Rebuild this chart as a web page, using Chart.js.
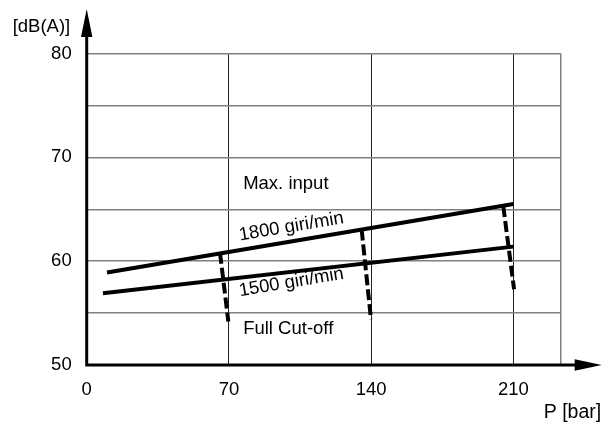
<!DOCTYPE html>
<html>
<head>
<meta charset="utf-8">
<script src="https://cdn.jsdelivr.net/npm/chart.js@4.4.1/dist/chart.umd.min.js"></script>
<style>
  html, body { margin: 0; padding: 0; background: #fff; }
  #c { display: block; }
</style>
</head>
<body>
<canvas id="c" width="609" height="430"></canvas>
<script>
// ---- data ----
const xTicks = [0, 70, 140, 210];          // P [bar]
const xMax = 233.4;
const yTicks = [50, 60, 70, 80];           // dB(A) labelled ticks
const yMin = 50, yMax = 80, yStep = 5;

const p1800 = [10, 210];
const db1800 = [58.9, 65.5];
const p1500 = [8, 210];
const db1500 = [56.9, 61.4];

const cut70P = [65.6, 69.7];
const cut70Db = [60.8, 54.2];
const cut140P = [135.3, 139.9];
const cut140Db = [63.05, 54.4];
const cut210P = [205, 210.3];
const cut210Db = [65.3, 57.3];

const labelTexts = ['Max. input', '1800 giri/min', '1500 giri/min', 'Full Cut-off'];
const labelP = [77, 75.4, 75.4, 77];
const labelDb = [66.93, 61.99, 56.63, 53.0];
const labelAngle = [0, -9.5, -9.5, 0];

const yTitle = '[dB(A)]';
const xTitle = 'P [bar]';

// ---- build ----
const pts = (xs, ys) => xs.map((x, i) => ({ x: x, y: ys[i] }));
const FONT = '"Liberation Sans", Arial, Helvetica, sans-serif';
const FSIZE = 18.5;
Chart.defaults.font.family = FONT;
Chart.defaults.font.size = FSIZE;
Chart.defaults.color = '#000';

const solid = { borderColor: '#000', borderWidth: 4, pointRadius: 0, showLine: true, fill: false, borderCapStyle: 'butt' };
const dashed = { borderColor: '#000', borderWidth: 4, pointRadius: 0, showLine: true, fill: false, borderDash: [11, 4], borderCapStyle: 'butt' };

const decor = {
  id: 'decor',
  afterDraw(chart) {
    const ctx = chart.ctx;
    const xs = chart.scales.x, ys = chart.scales.y;
    const ca = chart.chartArea;
    const x0 = xs.getPixelForValue(0);
    const y0 = ys.getPixelForValue(yMin);
    ctx.save();
    // axes
    ctx.strokeStyle = '#000';
    ctx.fillStyle = '#000';
    ctx.lineWidth = 3;
    ctx.beginPath();
    ctx.moveTo(x0, y0);
    ctx.lineTo(x0, ca.top - 20);
    ctx.moveTo(x0 - 1.5, y0);
    ctx.lineTo(ca.right + 15, y0);
    ctx.stroke();
    // y arrow
    const yTip = ca.top - 44.5;
    ctx.beginPath();
    ctx.moveTo(x0, yTip);
    ctx.lineTo(x0 - 5.7, yTip + 28);
    ctx.lineTo(x0 + 5.7, yTip + 28);
    ctx.closePath();
    ctx.fill();
    // x arrow
    const xTip = ca.right + 40.7;
    ctx.beginPath();
    ctx.moveTo(xTip, y0);
    ctx.lineTo(xTip - 27, y0 - 5.7);
    ctx.lineTo(xTip - 27, y0 + 5.7);
    ctx.closePath();
    ctx.fill();
    // axis titles
    ctx.font = FSIZE + 'px ' + FONT;
    ctx.textBaseline = 'alphabetic';
    ctx.textAlign = 'right';
    ctx.fillText(yTitle, x0 - 16.5, ca.top - 22);
    ctx.font = '19.5px ' + FONT;
    ctx.fillText(xTitle, xTip - 0.5, y0 + 53);
    // in-plot labels
    ctx.font = FSIZE + 'px ' + FONT;
    ctx.textAlign = 'left';
    for (let i = 0; i < labelTexts.length; i++) {
      const px = xs.getPixelForValue(labelP[i]);
      const py = ys.getPixelForValue(labelDb[i]);
      ctx.save();
      ctx.translate(px, py);
      ctx.rotate(labelAngle[i] * Math.PI / 180);
      ctx.fillText(labelTexts[i], 0, 0);
      ctx.restore();
    }
    ctx.restore();
  }
};

new Chart(document.getElementById('c'), {
  type: 'scatter',
  data: {
    datasets: [
      Object.assign({ label: '1800 giri/min', data: pts(p1800, db1800) }, solid),
      Object.assign({ label: '1500 giri/min', data: pts(p1500, db1500) }, solid),
      Object.assign({ label: 'cut 70', data: pts(cut70P, cut70Db) }, dashed),
      Object.assign({ label: 'cut 140', data: pts(cut140P, cut140Db) }, dashed),
      Object.assign({ label: 'cut 210', data: pts(cut210P, cut210Db) }, dashed)
    ]
  },
  options: {
    responsive: false,
    animation: false,
    layout: { padding: { top: 53.5, left: 0, right: 48, bottom: 0 } },
    plugins: { legend: { display: false }, tooltip: { enabled: false } },
    scales: {
      x: {
        type: 'linear',
        min: 0,
        max: xMax,
        afterBuildTicks(scale) {
          scale.ticks = xTicks.concat([xMax]).map(v => ({ value: v }));
        },
        afterFit(scale) { scale.height = 65; },
        border: { display: false },
        grid: {
          drawTicks: false,
          color: ctx => (ctx.tick && ctx.tick.value === xMax) ? '#808080' : '#222',
          lineWidth: ctx => (ctx.tick && ctx.tick.value === xMax) ? 1.5 : 1
        },
        ticks: {
          padding: 14,
          maxRotation: 0,
          autoSkip: false,
          callback: v => xTicks.includes(v) ? String(v) : ''
        }
      },
      y: {
        type: 'linear',
        min: yMin,
        max: yMax,
        afterFit(scale) { scale.width = 86.7; },
        border: { display: false },
        grid: { drawTicks: false, color: '#808080', lineWidth: 1.5 },
        ticks: {
          stepSize: yStep,
          padding: 15,
          autoSkip: false,
          callback: v => yTicks.includes(v) ? String(v) : ''
        }
      }
    }
  },
  plugins: [decor]
});
</script>
</body>
</html>
